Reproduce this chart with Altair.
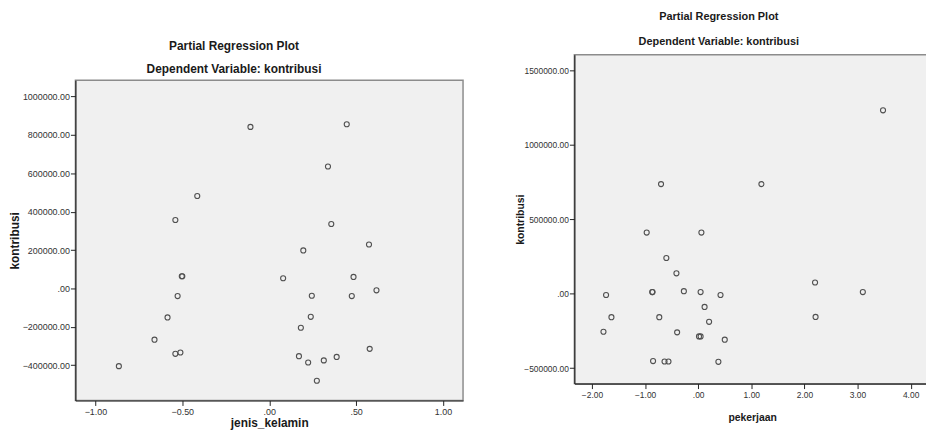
import altair as alt
import pandas as pd

# Left plot: jenis_kelamin vs kontribusi (partial residuals)
jk_x = [-0.414, -0.540, -0.500, -0.503, -0.527, -0.585, -0.660, -0.540, -0.511, -0.865,
        -0.108, 0.446, 0.338, 0.357, 0.574, 0.196, 0.080, 0.485, 0.617, 0.245,
        0.475, 0.239, 0.182, 0.578, 0.171, 0.388, 0.314, 0.224, 0.274]
jk_y = [482000, 356600, 63600, 63600, -39800, -151000, -267000, -341000, -334000, -405000,
        842000, 856000, 635700, 336000, 229000, 198000, 53000, 60000, -10000, -38000,
        -40000, -148000, -205000, -315000, -353000, -357000, -375000, -386000, -481000]

# Right plot: pekerjaan vs kontribusi (partial residuals)
pk_x = [-0.70, 3.48, 1.19, 0.06, -0.97, -0.60, -0.41, -0.27, -0.866, -0.860,
        0.045, -1.735, 0.12, -1.634, -0.733, 0.205, -1.784, -0.397, 0.015, 0.045,
        -0.85, -0.634, -0.56, 2.20, 3.10, 0.42, 2.21, 0.50, 0.38]
pk_y = [737000, 1233000, 737000, 411000, 411000, 240000, 137000, 17000, 11000, 11000,
        11000, -9000, -89000, -158000, -158000, -189000, -256000, -260000, -287000, -287000,
        -453000, -456000, -456000, 75000, 11000, -9000, -156000, -309000, -458000]

jk_xticks = [-1.0, -0.5, 0.0, 0.5, 1.0]
jk_yticks = [-400000, -200000, 0, 200000, 400000, 600000, 800000, 1000000]
pk_xticks = [-2, -1, 0, 1, 2, 3, 4]
pk_yticks = [-500000, 0, 500000, 1000000, 1500000]

title_lines = ["Partial Regression Plot", "Dependent Variable: kontribusi"]

SANS = "Liberation Sans, Arial, sans-serif"
LABEL_EXPR = "replace(format(datum.value, '.2f'), regexp('^(-?)0[.]'), '$1.')"

W, H = 926, 435


def panel(xs, ys, xname, xdom, ydom, xrange, yrange, xticks, yticks, lab_fs, axt_fs,
          x_title_y, y_title_x, head_fs, head_x, head_y, head_lh):
    df = pd.DataFrame({"x": xs, "y": ys})
    frame = pd.DataFrame({"x0": [xdom[0]], "x1": [xdom[1]], "y0": [ydom[0]], "y1": [ydom[1]]})
    common = dict(grid=False, domainColor="#222222", domainWidth=1.2, tickColor="#222222",
                  tickSize=5, tickWidth=1, labelColor="#333333", labelFont=SANS,
                  labelFontSize=lab_fs, titleFont=SANS, titleFontWeight="bold",
                  titleColor="#1a1a1a", titleFontSize=axt_fs, titleBaseline="alphabetic",
                  zindex=1)
    xaxis = alt.Axis(values=xticks, labelExpr=LABEL_EXPR, title=xname, orient="bottom",
                     offset=yrange[0] - H, labelPadding=2, titleY=x_title_y, **common)
    yaxis = alt.Axis(values=yticks, labelExpr=LABEL_EXPR, title="kontribusi", orient="left",
                     offset=-xrange[0], labelPadding=1, titleX=y_title_x, **common)
    xs_ = alt.Scale(domain=xdom, range=xrange, nice=False, zero=False)
    ys_ = alt.Scale(domain=ydom, range=yrange, nice=False, zero=False)

    bg = alt.Chart(frame).mark_rect(fill="#f0f0f0", stroke="#8c8c8c", strokeWidth=1.5).encode(
        x=alt.X("x0:Q", scale=xs_, axis=xaxis), x2="x1:Q",
        y=alt.Y("y0:Q", scale=ys_, axis=yaxis), y2="y1:Q",
    )
    pts = alt.Chart(df).mark_point(
        shape="circle", filled=False, size=26, color="#505050", strokeWidth=1.1, opacity=1
    ).encode(
        x=alt.X("x:Q", scale=xs_, axis=xaxis),
        y=alt.Y("y:Q", scale=ys_, axis=yaxis),
    )
    head = alt.Chart(frame).mark_text(
        text=title_lines, font=SANS, fontSize=head_fs, fontWeight="bold", color="#1a1a1a",
        align="center", baseline="alphabetic", lineHeight=head_lh
    ).encode(x=alt.value(head_x), y=alt.value(head_y))
    return alt.layer(bg, pts, head)


left = panel(jk_x, jk_y, "jenis_kelamin", [-1.115, 1.115], [-584000, 1085000],
             [68, 459], [394, 71], jk_xticks, jk_yticks, 9, 12, 26, -57,
             12, 228, 40.5, 23.5)
right = panel(pk_x, pk_y, "pekerjaan", [-2.332, 4.364], [-604700, 1606700],
              [571.3, 930], [377, 45.3], pk_xticks, pk_yticks, 8.5, 10.5, 37, -51.3,
              11, 717, 10, 25)

chart = alt.layer(left, right).resolve_scale(
    x="independent", y="independent"
).resolve_axis(
    x="independent", y="independent"
).properties(
    width=W, height=H, padding=0, autosize=alt.AutoSizeParams(type="none"),
    background="white"
).configure_view(strokeWidth=0)

chart.save("out.html", embed_options={"renderer": "svg", "actions": False})
